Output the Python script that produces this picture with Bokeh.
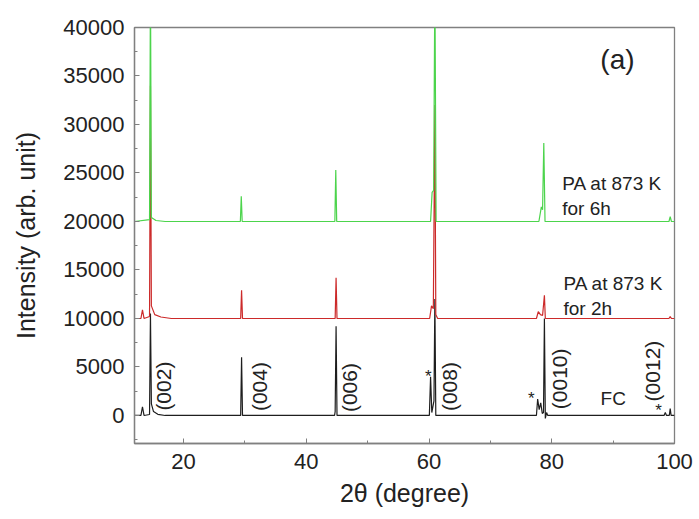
from bokeh.plotting import figure
from bokeh.models import Range1d, SingleIntervalTicker, Label
from bokeh.core.properties import value
from bokeh.embed import file_html
from bokeh.resources import INLINE

FONT = "Liberation Sans"

# FC (furnace cooled) pattern: (2theta, intensity)
fc_x = [12.0, 13.05, 13.3, 13.55, 14.45, 14.6, 14.75, 15.1, 15.8, 17.0, 29.3, 29.45, 29.6,
        44.6, 44.7, 44.85, 45.0, 60.05, 60.25, 60.45, 60.8, 60.95, 61.1, 77.5, 77.7, 77.95,
        78.2, 78.45, 78.65, 78.8, 78.95, 79.15, 79.35, 98.3, 98.5, 98.7, 99.15, 99.3, 99.45, 100.0]
fc_y = [0, 0, 900, 0, 100, 10500, 1200, 400, 120, 0, 0, 6000, 0,
        0, 400, 9200, 0, 0, 4000, 300, 1500, 12000, 0, 0, 1700, 600,
        1300, 200, 300, 10000, -300, 300, 0, 0, 300, 0, 0, 700, 0, 0]

# PA at 873 K for 2h
pa2_x = [12.0, 13.05, 13.3, 13.55, 14.45, 14.6, 14.75, 15.3, 16.3, 18.0, 29.3, 29.45, 29.6,
         44.7, 44.85, 45.0, 60.1, 60.4, 60.7, 60.95, 61.1, 61.4, 77.5, 77.8, 78.15,
         78.5, 78.8, 78.95, 99.1, 99.3, 99.5, 100.0]
pa2_y = [10000, 10000, 10900, 10000, 10200, 34000, 11300, 10400, 10150, 10000, 10000, 12900, 10000,
         10000, 14200, 10000, 10000, 11300, 11000, 32000, 10400, 10000, 10000, 10700, 10400,
         10300, 12400, 10000, 10000, 10200, 10000, 10000]

# PA at 873 K for 6h
pa6_x = [12.0, 14.45, 14.6, 14.75, 15.5, 17.0, 29.25, 29.4, 29.55, 44.65, 44.8, 44.95,
         60.25, 60.5, 60.75, 60.95, 61.15, 77.9, 78.3, 78.5, 78.7, 78.9, 99.1, 99.3, 99.5, 100.0]
pa6_y = [20000, 20200, 45000, 20400, 20100, 20000, 20000, 22600, 20000, 20000, 25300, 20000,
         20000, 23000, 23200, 45000, 20000, 20000, 21500, 21200, 28100, 20000, 20000, 20500, 20000, 20000]

peak_labels = ["(002)", "(004)", "(006)", "(008)", "(0010)", "(0012)"]
peak_label_x = [16.8, 32.3, 47.0, 63.3, 81.3, 96.4]
peak_label_y = [500, 450, 350, 450, 650, 1450]

star_x = [59.9, 76.65, 97.4]
star_y = [4000, 1800, 500]

p = figure(width=699, height=519, output_backend="svg", toolbar_location=None,
           x_range=Range1d(12, 100), y_range=Range1d(-2890, 40000),
           min_border_left=134, min_border_right=25, min_border_top=27, min_border_bottom=76)

p.background_fill_color = "white"
p.border_fill_color = "white"
p.grid.visible = False
p.outline_line_color = "#808080"
p.outline_line_width = 1.3

p.line(fc_x, fc_y, line_color="#1e1e1e", line_width=1.2)
p.line(pa2_x, pa2_y, line_color="#cc2a2a", line_width=1.2)
p.line(pa6_x, pa6_y, line_color="#4cd44c", line_width=1.2)

for ax in (p.xaxis[0], p.yaxis[0]):
    ax.axis_line_color = "#808080"
    ax.axis_line_width = 1.3
    ax.major_tick_line_color = "#808080"
    ax.minor_tick_line_color = "#808080"
    ax.major_tick_in = 5
    ax.major_tick_out = 0
    ax.minor_tick_in = 3
    ax.minor_tick_out = 0
    ax.major_label_text_font = FONT
    ax.major_label_text_font_size = "22px"
    ax.major_label_text_color = "#222222"
    ax.axis_label_text_font = FONT
    ax.axis_label_text_font_size = "25px"
    ax.axis_label_text_font_style = "normal"
    ax.axis_label_text_color = "#222222"
    ax.major_label_standoff = 10

p.xaxis[0].ticker = SingleIntervalTicker(interval=20, num_minor_ticks=2)
p.yaxis[0].ticker = SingleIntervalTicker(interval=5000, num_minor_ticks=2)
p.xaxis[0].axis_label = "2θ (degree)"
p.yaxis[0].axis_label = "Intensity (arb. unit)"
p.xaxis[0].axis_label_standoff = 7
p.yaxis[0].axis_label_standoff = 20

p.text(x=peak_label_x, y=peak_label_y, text=peak_labels, angle=1.5708,
       text_font=value(FONT), text_font_size="21px", text_color="#222222",
       text_align="left", text_baseline="middle")

p.text(x=star_x, y=star_y, text=["*"] * len(star_x),
       text_font=value(FONT), text_font_size="17px", text_color="#222222",
       text_align="center", text_baseline="middle")

for txt, x, y, size in [("(a)", 90.7, 36700, "28px"),
                        ("PA at 873 K", 81.7, 23950, "19px"),
                        ("for 6h", 81.7, 21380, "19px"),
                        ("PA at 873 K", 81.9, 13570, "19px"),
                        ("for 2h", 81.9, 11000, "19px"),
                        ("FC", 87.95, 1750, "19px")]:
    if txt == "(a)":
        p.add_layout(Label(x=x, y=y, text=txt, text_font=FONT, text_font_size=size,
                           text_color="#222222", text_align="center", text_baseline="middle"))
    else:
        p.add_layout(Label(x=x, y=y, text=txt, text_font=FONT, text_font_size=size,
                           text_color="#222222", text_align="left", text_baseline="alphabetic"))

open("out.html", "w").write(file_html(p, INLINE))
